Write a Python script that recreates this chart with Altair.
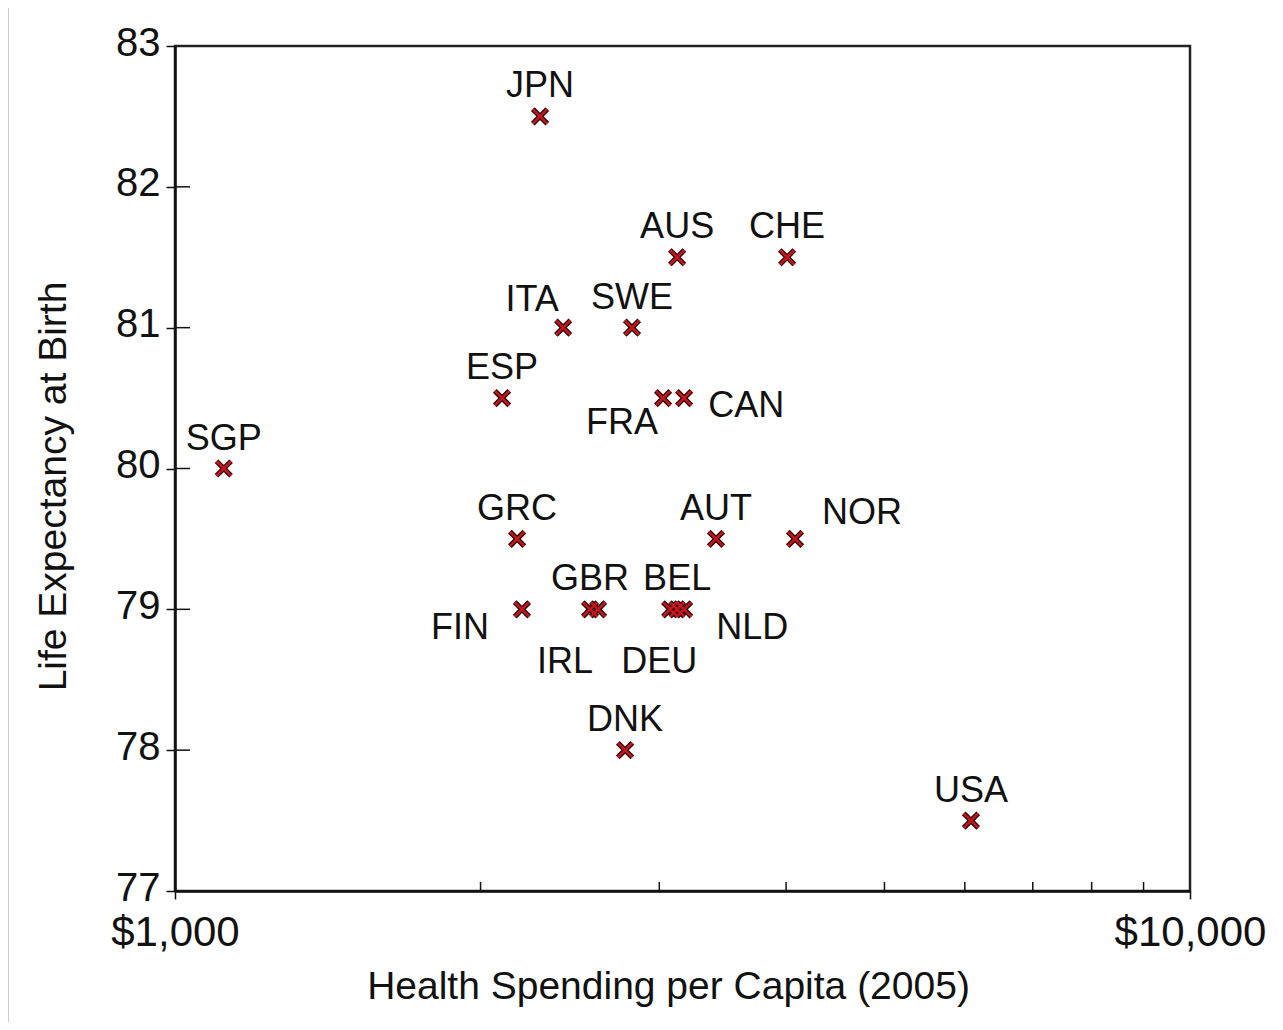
import altair as alt
import pandas as pd

# ---- data ----
countries = ["SGP", "JPN", "ITA", "ESP", "GRC", "FIN", "GBR", "IRL", "DNK", "SWE",
             "FRA", "DEU", "AUS", "BEL", "CAN", "NLD", "AUT", "CHE", "NOR", "USA"]
spending = [1117, 2289, 2412, 2100, 2173, 2197, 2564, 2611, 2776, 2820,
            3026, 3075, 3124, 3124, 3174, 3174, 3412, 4009, 4082, 6084]
life_exp = [80.0, 82.5, 81.0, 80.5, 79.5, 79.0, 79.0, 79.0, 78.0, 81.0,
            80.5, 79.0, 81.5, 79.0, 80.5, 79.0, 79.5, 81.5, 79.5, 77.5]
x_major_ticks = [1000, 10000]
x_minor_ticks = [2000, 3000, 4000, 5000, 6000, 7000, 8000, 9000]
y_ticks = [77, 78, 79, 80, 81, 82, 83]
y_inner_ticks = [78, 79, 80, 81, 82]

df = pd.DataFrame({"country": countries, "x": spending, "y": life_exp})
xminor_df = pd.DataFrame({"x": x_minor_ticks})
yinner_df = pd.DataFrame({"y": y_inner_ticks})

# ---- layout / style ----
W, H = 1015, 845
FONT = "Liberation Sans"
XPATH = "M-1,-1L1,1M-1,1L1,-1"

# label placement relative to each marker: (dx, dy, align)
N = (0, -19, "center")
LABEL_PLACE = {
    "SGP": N, "JPN": N, "ESP": N, "GRC": N, "GBR": N, "DNK": N, "SWE": N,
    "AUS": N, "BEL": N, "AUT": N, "CHE": N, "USA": N,
    "ITA": (-31, -17, "center"),
    "FRA": (-41, 36, "center"),
    "CAN": (24, 19, "left"),
    "NOR": (27, -15, "left"),
    "FIN": (-33, 30, "right"),
    "NLD": (32, 30, "left"),
    "IRL": (-33, 64, "center"),
    "DEU": (-11, 64, "center"),
}

xscale = alt.Scale(type="log", domain=[1000, 10000], nice=False)
yscale = alt.Scale(domain=[77, 83], nice=False, zero=False)

xaxis = alt.Axis(values=x_major_ticks, format="$,.0f", title="Health Spending per Capita (2005)",
                 grid=False, tickSize=8, tickColor="#111", tickWidth=1.5,
                 domainColor="#111", domainWidth=2.5,
                 labelFont=FONT, labelFontSize=42, labelColor="#111", labelPadding=13,
                 labelFlush=False, labelOverlap=False,
                 titleFont=FONT, titleFontSize=39, titleFontWeight="normal", titleColor="#111",
                 titleX=493, titleY=107, titleBaseline="alphabetic", titleAlign="center")
yaxis = alt.Axis(values=y_ticks, format="d", title="Life Expectancy at Birth",
                 grid=False, tickSize=9, tickColor="#111", tickWidth=1.5,
                 domainColor="#111", domainWidth=2.5,
                 labelFont=FONT, labelFontSize=40, labelColor="#111", labelPadding=6,
                 labelOffset=-3, labelFlush=False, labelOverlap=False,
                 titleFont=FONT, titleFontSize=39, titleFontWeight="normal", titleColor="#111",
                 titleAngle=-90, titleX=-110, titleY=440, titleBaseline="alphabetic",
                 titleAlign="center")


def X(field="x"):
    return alt.X(f"{field}:Q", scale=xscale, axis=xaxis)


def Y(field="y"):
    return alt.Y(f"{field}:Q", scale=yscale, axis=yaxis)


base = alt.Chart(df)

pts_dark = base.mark_point(shape=XPATH, size=210, filled=False, stroke="#2a0808",
                           strokeWidth=5.2, opacity=1).encode(x=X(), y=Y())
pts_red = base.mark_point(shape=XPATH, size=210, filled=False, stroke="#c8141c",
                          strokeWidth=2.5, opacity=1).encode(x=X(), y=Y())

xminor = alt.Chart(xminor_df).mark_rule(color="#111", strokeWidth=1.5).encode(
    x=X(), y=alt.value(H), y2=alt.value(H - 9),
)
yinner = alt.Chart(yinner_df).mark_rule(color="#111", strokeWidth=1.5).encode(
    y=Y(), x=alt.value(0), x2=alt.value(15),
)

border = alt.Chart(pd.DataFrame({"v": [0]})).mark_rule(color="#b8b8b8", strokeWidth=1.5).encode(
    x=alt.value(-167), y=alt.value(-38), y2=alt.value(H + 131),
)

label_layers = []
for c in countries:
    dx, dy, al = LABEL_PLACE[c]
    label_layers.append(
        base.transform_filter(alt.datum.country == c).mark_text(
            dx=dx, dy=dy, align=al, baseline="alphabetic", font=FONT, fontSize=36,
            color="#111").encode(x=X(), y=Y(), text="country:N")
    )

chart = alt.layer(pts_dark, xminor, yinner, border, pts_red, *label_layers).properties(
    width=W, height=H,
    background="white",
    autosize=alt.AutoSizeParams(type="none"),
    padding={"left": 167, "top": 38, "right": 85, "bottom": 131},
).configure_view(stroke="#222", strokeWidth=2.5)

chart.save("out.html", embed_options={"renderer": "svg", "actions": False})
